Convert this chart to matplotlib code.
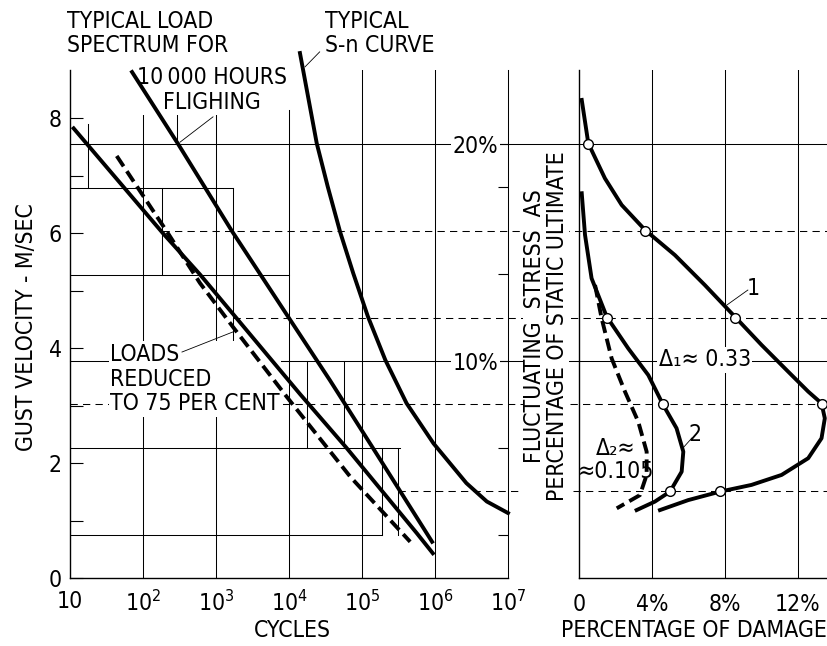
import numpy as np
import matplotlib
matplotlib.use("Agg")
import matplotlib.pyplot as plt
from matplotlib.ticker import FixedLocator, NullLocator

FONT = ["DejaVu Sans Condensed", "DejaVu Sans"]

plt.rcParams["font.family"] = FONT
plt.rcParams["font.stretch"] = "condensed"
plt.rcParams["font.size"] = 16.5
plt.rcParams["mathtext.fontset"] = "custom"
plt.rcParams["mathtext.rm"] = FONT[0]

# ============================================================
# Data
# left panel: gust velocity (m/s) against log10(cycles)
# ============================================================

spectrum_logn = [1.05, 2.27, 2.78, 4.15, 4.79, 5.75, 5.97]
spectrum_gust = [7.82, 6.00, 5.28, 3.20, 2.26, 0.78, 0.43]

flight_logn = [1.85, 2.48, 3.22, 3.99, 4.56, 5.15, 5.96]
flight_gust = [8.80, 7.55, 6.03, 4.54, 3.44, 2.26, 0.63]

reduced_logn = [1.64, 2.34, 2.78, 3.23, 3.97, 4.84, 5.66]
reduced_gust = [7.34, 6.00, 5.13, 4.37, 3.15, 1.76, 0.63]

sn_logn = [4.15, 4.38, 4.53, 4.70, 4.88, 5.08, 5.32, 5.61, 5.98, 6.43,
           6.71, 7.00]
sn_gust = [9.13, 7.56, 6.81, 6.02, 5.30, 4.55, 3.79, 3.04, 2.34, 1.65,
           1.33, 1.13]

# load spectrum blocks (thin lines): (level, log10 from, log10 to)
block_h = [(6.78, 1.0, 3.23), (5.27, 1.0, 4.0), (2.26, 1.0, 5.52),
           (0.75, 1.0, 5.27)]
block_v = [(1.25, 6.78, 7.90), (2.47, 7.55, 8.10), (2.26, 5.27, 6.78),
           (3.23, 3.77, 6.78), (4.25, 2.26, 3.77), (4.75, 2.26, 3.77),
           (5.27, 0.75, 2.26), (5.50, 0.75, 2.26)]

cycle_labels = ["10", r"$\mathregular{10^2}$", r"$\mathregular{10^3}$",
                r"$\mathregular{10^4}$", r"$\mathregular{10^5}$",
                r"$\mathregular{10^6}$", r"$\mathregular{10^7}$"]

# ============================================================
# right panel: stress (% of static ultimate) against damage (%)
# ============================================================

curve1_dmg = [0.15, 0.51, 1.42, 2.34, 3.62, 5.26, 6.90, 8.55, 10.01,
              11.47, 12.57, 13.30, 13.48, 13.30, 12.57, 11.11, 9.46,
              7.73, 5.99, 4.44]
curve1_pct = [22.03, 20.03, 18.42, 17.19, 16.04, 14.88, 13.50, 12.04,
              10.74, 9.51, 8.59, 8.05, 7.36, 6.44, 5.52, 4.75, 4.29,
              3.98, 3.59, 3.13]

curve2_dmg = [0.15, 0.33, 0.69, 1.52, 2.70, 3.80, 4.62, 5.35, 5.72,
              5.63, 4.99, 4.16, 3.16]
curve2_pct = [17.73, 15.81, 13.81, 12.04, 10.58, 9.35, 7.97, 6.90, 5.82,
              4.90, 3.98, 3.52, 3.13]

reduced_dmg = [0.88, 1.24, 1.79, 2.52, 3.25, 3.71, 3.71, 3.34, 2.07]
reduced_pct = [13.50, 11.97, 10.12, 8.59, 7.20, 5.82, 4.75, 3.82, 3.21]

points1_dmg = [0.51, 3.62, 8.55, 13.30, 7.73]
points1_pct = [20, 16, 12, 8, 4]
points2_dmg = [1.52, 4.62, 4.99]
points2_pct = [12, 8, 4]

# stress levels shared by both panels: (percent, dashed, log10 start on left)
levels = [(20, False, 1.0), (16, True, 2.26), (12, True, 3.23),
          (10, False, 1.0), (8, True, 1.0), (4, True, 5.5)]

damage_ticks = [0, 4, 8, 12]
damage_labels = ["0", "4%", "8%", "12%"]

# ============================================================
# Figure
# ============================================================

GUST_TOP = 8.835
PCT_TOP = 23.41
K = GUST_TOP / PCT_TOP

THICK = 2.8
THIN = 0.75
GRID_DASH = (7, 5)
CURVE_DASH = (3.2, 1.5)

fig = plt.figure(figsize=(8.27, 6.46), dpi=100)
ax = fig.add_axes([70 / 827, 68 / 646, 438 / 827, 508 / 646])
ax_r = fig.add_axes([579 / 827, 68 / 646, 248 / 827, 508 / 646])
ax_r.patch.set_visible(False)

# ---------------------------------------
# Left panel frame
# ---------------------------------------

ax.set_xscale("log")
ax.set_xlim(10, 1e7)
ax.set_ylim(0, GUST_TOP)

for s in ["top", "right"]:
    ax.spines[s].set_visible(False)
for s in ["left", "bottom"]:
    ax.spines[s].set_linewidth(1.0)

ax.xaxis.set_major_locator(FixedLocator(10.0 ** np.arange(1, 8)))
ax.xaxis.set_minor_locator(NullLocator())
ax.set_xticklabels(cycle_labels)
ax.tick_params(axis="x", length=0, pad=9)

ax.set_yticks([0, 2, 4, 6, 8])
ax.set_yticks([1, 3, 5, 7], minor=True)
ax.tick_params(axis="y", which="both", direction="in", length=9,
               width=0.8, pad=6)

for k in range(2, 7):
    top = 8.14 if k == 4 else GUST_TOP
    ax.plot([10.0 ** k] * 2, [0, top], color="black", lw=THIN, zorder=1)

for y, x0, x1 in block_h:
    ax.plot([10 ** x0, 10 ** x1], [y, y], color="black", lw=THIN, zorder=1)
for x, y0, y1 in block_v:
    ax.plot([10 ** x, 10 ** x], [y0, y1], color="black", lw=THIN, zorder=1)

for pct, dashed, x0 in levels:
    line, = ax.plot([10 ** x0, 10 ** 11.5], [pct * K, pct * K],
                    color="black", lw=THIN, zorder=1, clip_on=False)
    if dashed:
        line.set_dashes(GRID_DASH)

# percent axis on the right edge of the left panel
axp = ax.twinx()
axp.set_ylim(0, PCT_TOP)
for s in ["top", "left", "bottom"]:
    axp.spines[s].set_visible(False)
axp.spines["right"].set_linewidth(THIN)
axp.set_yticks([10, 20])
axp.set_yticklabels(["10%", "20%"])
axp.set_yticks([2, 6, 14, 18], minor=True)
axp.tick_params(axis="y", which="both", direction="in", length=7,
                width=0.8, pad=-7)
plt.setp(axp.get_yticklabels(), ha="right",
         bbox=dict(fc="white", ec="none", pad=1))

# ---------------------------------------
# Left panel curves
# ---------------------------------------

ax.plot(10 ** np.array(spectrum_logn), spectrum_gust, color="black",
        lw=THICK, zorder=3, clip_on=False)
ax.plot(10 ** np.array(flight_logn), flight_gust, color="black",
        lw=THICK, zorder=3, clip_on=False)
ax.plot(10 ** np.array(sn_logn), sn_gust, color="black",
        lw=THICK, zorder=3, clip_on=False)
ax.plot(10 ** np.array(reduced_logn), reduced_gust, color="black",
        lw=THICK, zorder=3, clip_on=False, dashes=CURVE_DASH)

# ---------------------------------------
# Left panel annotations
# ---------------------------------------

ax.text(9.1, 9.47, "TYPICAL LOAD\nSPECTRUM FOR", ha="left", va="center",
        linespacing=1.1, clip_on=False)
ax.text(10 ** 4.49, 9.47, "TYPICAL\nS-n CURVE", ha="left", va="center",
        linespacing=1.1, clip_on=False)
ax.text(10 ** 2.945, 8.49, "10\u2009000 HOURS\nFLIGHING", ha="center",
        va="center", multialignment="center", linespacing=1.1,
        clip_on=False, zorder=2,
        bbox=dict(fc="white", ec="none", pad=1))
ax.text(10 ** 1.548, 3.46, "LOADS\nREDUCED\nTO 75 PER CENT", ha="left",
        va="center", linespacing=1.1, zorder=2,
        bbox=dict(fc="white", ec="none", pad=1))

ax.plot([10 ** 2.507, 10 ** 2.959], [7.58, 8.02], color="black", lw=0.6,
        zorder=3)
ax.plot([10 ** 4.22, 10 ** 4.42], [8.89, 9.15], color="black", lw=0.6,
        zorder=3, clip_on=False)
ax.plot([10 ** 2.534, 10 ** 3.233], [3.93, 4.28], color="black", lw=0.6,
        zorder=3)

ax.set_xlabel("CYCLES")
ax.xaxis.set_label_coords(0.507, -0.081)
ax.set_ylabel("GUST VELOCITY - M/SEC")
ax.yaxis.set_label_coords(-0.073, 0.494)

# ---------------------------------------
# Right panel
# ---------------------------------------

ax_r.set_xlim(0, 13.6)
ax_r.set_ylim(0, PCT_TOP)
for s in ["top", "right"]:
    ax_r.spines[s].set_visible(False)
for s in ["left", "bottom"]:
    ax_r.spines[s].set_linewidth(1.0)
ax_r.set_yticks([])
ax_r.set_xticks(damage_ticks)
ax_r.set_xticklabels(damage_labels)
ax_r.tick_params(axis="x", length=0, pad=11)

for x in damage_ticks[1:]:
    ax_r.plot([x, x], [0, PCT_TOP], color="black", lw=THIN, zorder=1)

ax_r.plot(curve1_dmg, curve1_pct, color="black", lw=THICK, zorder=3,
          clip_on=False)
ax_r.plot(curve2_dmg, curve2_pct, color="black", lw=THICK, zorder=3,
          clip_on=False)
ax_r.plot(reduced_dmg, reduced_pct, color="black", lw=THICK, zorder=3,
          clip_on=False, dashes=CURVE_DASH)

ax_r.plot(points1_dmg, points1_pct, "o", ms=7, mfc="white", mec="black",
          mew=1.0, zorder=4, clip_on=False)
ax_r.plot(points2_dmg, points2_pct, "o", ms=7, mfc="white", mec="black",
          mew=1.0, zorder=4, clip_on=False)

ax_r.text(9.53, 13.36, "1", ha="center", va="center")
ax_r.plot([8.11, 9.26], [12.58, 13.27], color="black", lw=0.6, zorder=3)
ax_r.text(6.36, 6.6, "2", ha="center", va="center")
ax_r.plot([5.7, 6.19], [5.99, 6.45], color="black", lw=0.6, zorder=3)

ax_r.text(6.9, 10.05, "\u0394\u2081\u2248 0.33", ha="center", va="center",
          zorder=2, bbox=dict(fc="white", ec="none", pad=1))
ax_r.text(2.03, 5.44, "\u0394\u2082\u2248\n\u22480.105", ha="center",
          va="center", multialignment="center", linespacing=1.0, zorder=2)

ax_r.set_xlabel("PERCENTAGE OF DAMAGE")
ax_r.xaxis.set_label_coords(0.464, -0.081)
ax_r.text(-0.133, 0.496,
          "FLUCTUATING  STRESS  AS\nPERCENTAGE OF STATIC ULTIMATE",
          transform=ax_r.transAxes, rotation=90, ha="center", va="center",
          multialignment="center", linespacing=1.05,
          bbox=dict(fc="white", ec="none", pad=0))

fig.savefig("out.png", dpi=100)
